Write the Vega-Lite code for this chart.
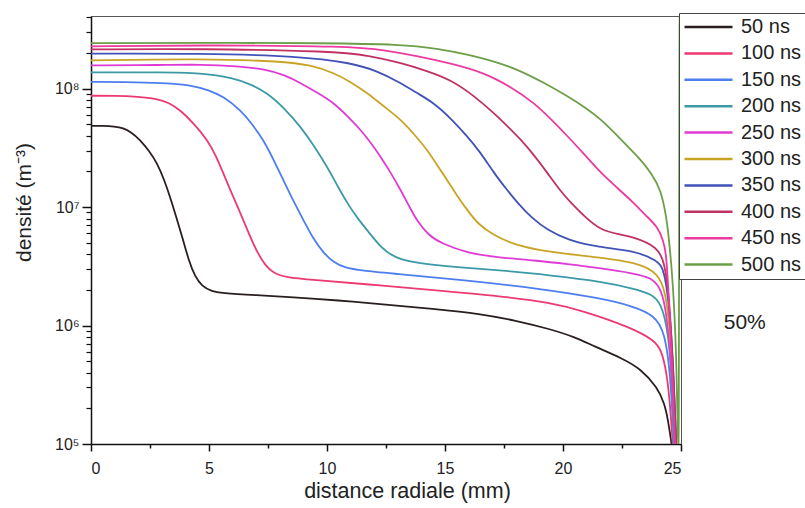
{
"$schema": "https://vega.github.io/schema/vega-lite/v6.json",
"width": 590, "height": 428,
"autosize": {"type": "none"},
"padding": {"left": 91, "top": 16, "right": 124, "bottom": 64},
"background": "white",
"config": {
  "font": "Liberation Sans",
  "view": {"stroke": "#555", "strokeWidth": 1},
  "axis": {"grid": false, "domainColor": "#111", "tickColor": "#111", "labelColor": "#222", "titleColor": "#222", "labelFont": "Liberation Sans", "titleFont": "Liberation Sans", "titleFontWeight": "normal"}
},
"datasets": {
"curves": [
{"t":"50 ns","x":0,"y":4.85e7},{"t":"50 ns","x":0.5,"y":4.85e7},{"t":"50 ns","x":1.0,"y":4.78e7},{"t":"50 ns","x":1.36,"y":4.65e7},{"t":"50 ns","x":1.7,"y":4.3e7},{"t":"50 ns","x":2.08,"y":3.7e7},{"t":"50 ns","x":2.45,"y":3.0e7},{"t":"50 ns","x":2.8,"y":2.36e7},{"t":"50 ns","x":3.1,"y":1.7e7},{"t":"50 ns","x":3.35,"y":1.22e7},{"t":"50 ns","x":3.6,"y":8.4e6},{"t":"50 ns","x":3.9,"y":5.3e6},{"t":"50 ns","x":4.15,"y":3.5e6},{"t":"50 ns","x":4.4,"y":2.6e6},{"t":"50 ns","x":4.7,"y":2.15e6},{"t":"50 ns","x":5.1,"y":1.95e6},{"t":"50 ns","x":5.5,"y":1.88e6},{"t":"50 ns","x":7,"y":1.8e6},{"t":"50 ns","x":8.5,"y":1.74e6},{"t":"50 ns","x":10.5,"y":1.63e6},{"t":"50 ns","x":12.3,"y":1.51e6},{"t":"50 ns","x":14.5,"y":1.38e6},{"t":"50 ns","x":16.5,"y":1.26e6},{"t":"50 ns","x":18,"y":1.1e6},{"t":"50 ns","x":19.4,"y":9.4e5},{"t":"50 ns","x":20.5,"y":8.0e5},{"t":"50 ns","x":21.3,"y":6.7e5},{"t":"50 ns","x":22.5,"y":5.3e5},{"t":"50 ns","x":23.3,"y":4.3e5},{"t":"50 ns","x":24.0,"y":3.0e5},{"t":"50 ns","x":24.3,"y":2.2e5},{"t":"50 ns","x":24.45,"y":1.6e5},{"t":"50 ns","x":24.6,"y":1.0e5},
{"t":"100 ns","x":0,"y":8.7e7},{"t":"100 ns","x":1.0,"y":8.7e7},{"t":"100 ns","x":2.0,"y":8.55e7},{"t":"100 ns","x":2.8,"y":8.2e7},{"t":"100 ns","x":3.3,"y":7.6e7},{"t":"100 ns","x":3.78,"y":6.6e7},{"t":"100 ns","x":4.35,"y":5.1e7},{"t":"100 ns","x":4.93,"y":3.7e7},{"t":"100 ns","x":5.3,"y":2.7e7},{"t":"100 ns","x":5.6,"y":1.94e7},{"t":"100 ns","x":6.0,"y":1.25e7},{"t":"100 ns","x":6.33,"y":8.9e6},{"t":"100 ns","x":6.7,"y":5.9e6},{"t":"100 ns","x":7.05,"y":4.1e6},{"t":"100 ns","x":7.4,"y":3.2e6},{"t":"100 ns","x":7.73,"y":2.76e6},{"t":"100 ns","x":8.3,"y":2.55e6},{"t":"100 ns","x":9.2,"y":2.45e6},{"t":"100 ns","x":12.3,"y":2.18e6},{"t":"100 ns","x":15,"y":1.95e6},{"t":"100 ns","x":17.6,"y":1.75e6},{"t":"100 ns","x":19.5,"y":1.55e6},{"t":"100 ns","x":20.8,"y":1.34e6},{"t":"100 ns","x":22.9,"y":9.6e5},{"t":"100 ns","x":23.86,"y":7.5e5},{"t":"100 ns","x":24.16,"y":6.3e5},{"t":"100 ns","x":24.4,"y":4.0e5},{"t":"100 ns","x":24.55,"y":2.0e5},{"t":"100 ns","x":24.65,"y":1.0e5},
{"t":"150 ns","x":0,"y":1.14e8},{"t":"150 ns","x":2,"y":1.13e8},{"t":"150 ns","x":3.3,"y":1.11e8},{"t":"150 ns","x":4.2,"y":1.07e8},{"t":"150 ns","x":5.0,"y":9.7e7},{"t":"150 ns","x":5.6,"y":8.6e7},{"t":"150 ns","x":6.33,"y":6.6e7},{"t":"150 ns","x":6.8,"y":5.1e7},{"t":"150 ns","x":7.3,"y":3.7e7},{"t":"150 ns","x":7.7,"y":2.6e7},{"t":"150 ns","x":8.15,"y":1.69e7},{"t":"150 ns","x":8.6,"y":1.1e7},{"t":"150 ns","x":9.0,"y":7.76e6},{"t":"150 ns","x":9.4,"y":5.5e6},{"t":"150 ns","x":9.85,"y":4.08e6},{"t":"150 ns","x":10.3,"y":3.4e6},{"t":"150 ns","x":10.7,"y":3.1e6},{"t":"150 ns","x":11.5,"y":2.9e6},{"t":"150 ns","x":12.7,"y":2.76e6},{"t":"150 ns","x":15.97,"y":2.4e6},{"t":"150 ns","x":19,"y":2.05e6},{"t":"150 ns","x":21.6,"y":1.7e6},{"t":"150 ns","x":23.0,"y":1.45e6},{"t":"150 ns","x":23.86,"y":1.22e6},{"t":"150 ns","x":24.3,"y":9e5},{"t":"150 ns","x":24.55,"y":4e5},{"t":"150 ns","x":24.7,"y":1.0e5},
{"t":"200 ns","x":0,"y":1.37e8},{"t":"200 ns","x":3,"y":1.37e8},{"t":"200 ns","x":4.63,"y":1.36e8},{"t":"200 ns","x":6.03,"y":1.23e8},{"t":"200 ns","x":6.8,"y":1.08e8},{"t":"200 ns","x":7.46,"y":9.2e7},{"t":"200 ns","x":8.2,"y":6.8e7},{"t":"200 ns","x":8.87,"y":4.8e7},{"t":"200 ns","x":9.45,"y":3.3e7},{"t":"200 ns","x":10.0,"y":2.2e7},{"t":"200 ns","x":10.45,"y":1.5e7},{"t":"200 ns","x":10.86,"y":1.08e7},{"t":"200 ns","x":11.3,"y":8.0e6},{"t":"200 ns","x":11.7,"y":6.4e6},{"t":"200 ns","x":12.3,"y":4.5e6},{"t":"200 ns","x":12.9,"y":3.7e6},{"t":"200 ns","x":13.84,"y":3.35e6},{"t":"200 ns","x":15.5,"y":3.1e6},{"t":"200 ns","x":17.4,"y":2.92e6},{"t":"200 ns","x":19.5,"y":2.65e6},{"t":"200 ns","x":21.6,"y":2.36e6},{"t":"200 ns","x":23.0,"y":2.05e6},{"t":"200 ns","x":23.74,"y":1.85e6},{"t":"200 ns","x":24.16,"y":1.55e6},{"t":"200 ns","x":24.45,"y":9e5},{"t":"200 ns","x":24.6,"y":4e5},{"t":"200 ns","x":24.72,"y":1.0e5},
{"t":"250 ns","x":0,"y":1.57e8},{"t":"250 ns","x":3,"y":1.58e8},{"t":"250 ns","x":4.63,"y":1.6e8},{"t":"250 ns","x":6.2,"y":1.55e8},{"t":"250 ns","x":7.46,"y":1.45e8},{"t":"250 ns","x":8.2,"y":1.3e8},{"t":"250 ns","x":8.87,"y":1.12e8},{"t":"250 ns","x":9.6,"y":9.2e7},{"t":"250 ns","x":10.28,"y":7.6e7},{"t":"250 ns","x":10.85,"y":5.9e7},{"t":"250 ns","x":11.42,"y":4.5e7},{"t":"250 ns","x":11.85,"y":3.5e7},{"t":"250 ns","x":12.27,"y":2.67e7},{"t":"250 ns","x":12.7,"y":1.95e7},{"t":"250 ns","x":13.12,"y":1.39e7},{"t":"250 ns","x":13.5,"y":1.0e7},{"t":"250 ns","x":13.84,"y":7.5e6},{"t":"250 ns","x":14.3,"y":5.8e6},{"t":"250 ns","x":14.82,"y":4.95e6},{"t":"250 ns","x":15.97,"y":4.08e6},{"t":"250 ns","x":17.3,"y":3.75e6},{"t":"250 ns","x":18.77,"y":3.55e6},{"t":"250 ns","x":20.2,"y":3.3e6},{"t":"250 ns","x":21.61,"y":3.04e6},{"t":"250 ns","x":23.0,"y":2.75e6},{"t":"250 ns","x":23.74,"y":2.55e6},{"t":"250 ns","x":24.25,"y":2.0e6},{"t":"250 ns","x":24.5,"y":8e5},{"t":"250 ns","x":24.65,"y":3e5},{"t":"250 ns","x":24.75,"y":1.0e5},
{"t":"300 ns","x":0,"y":1.73e8},{"t":"300 ns","x":4.63,"y":1.79e8},{"t":"300 ns","x":8.15,"y":1.7e8},{"t":"300 ns","x":9.3,"y":1.58e8},{"t":"300 ns","x":10.28,"y":1.36e8},{"t":"300 ns","x":11.0,"y":1.14e8},{"t":"300 ns","x":11.7,"y":9.2e7},{"t":"300 ns","x":12.4,"y":7.1e7},{"t":"300 ns","x":13.12,"y":5.5e7},{"t":"300 ns","x":13.7,"y":4.1e7},{"t":"300 ns","x":14.25,"y":3.04e7},{"t":"300 ns","x":14.7,"y":2.2e7},{"t":"300 ns","x":15.1,"y":1.69e7},{"t":"300 ns","x":15.5,"y":1.25e7},{"t":"300 ns","x":15.95,"y":9.4e6},{"t":"300 ns","x":16.4,"y":7.2e6},{"t":"300 ns","x":16.94,"y":6.0e6},{"t":"300 ns","x":17.9,"y":4.8e6},{"t":"300 ns","x":19.36,"y":4.17e6},{"t":"300 ns","x":21.5,"y":3.77e6},{"t":"300 ns","x":23.3,"y":3.35e6},{"t":"300 ns","x":24.0,"y":2.75e6},{"t":"300 ns","x":24.35,"y":2.0e6},{"t":"300 ns","x":24.55,"y":8e5},{"t":"300 ns","x":24.7,"y":3e5},{"t":"300 ns","x":24.8,"y":1.0e5},
{"t":"350 ns","x":0,"y":1.97e8},{"t":"350 ns","x":4.63,"y":1.98e8},{"t":"350 ns","x":8.87,"y":1.88e8},{"t":"350 ns","x":11.0,"y":1.65e8},{"t":"350 ns","x":12.1,"y":1.42e8},{"t":"350 ns","x":13.12,"y":1.12e8},{"t":"350 ns","x":13.8,"y":9.2e7},{"t":"350 ns","x":14.52,"y":7.6e7},{"t":"350 ns","x":15.25,"y":5.6e7},{"t":"350 ns","x":15.95,"y":3.95e7},{"t":"350 ns","x":16.5,"y":2.9e7},{"t":"350 ns","x":17.08,"y":1.93e7},{"t":"350 ns","x":17.6,"y":1.42e7},{"t":"350 ns","x":18.08,"y":1.08e7},{"t":"350 ns","x":18.7,"y":8.0e6},{"t":"350 ns","x":19.35,"y":6.4e6},{"t":"350 ns","x":20.2,"y":5.25e6},{"t":"350 ns","x":21.5,"y":4.57e6},{"t":"350 ns","x":23.0,"y":4.3e6},{"t":"350 ns","x":24.0,"y":3.55e6},{"t":"350 ns","x":24.3,"y":3.0e6},{"t":"350 ns","x":24.55,"y":1.2e6},{"t":"350 ns","x":24.7,"y":3.5e5},{"t":"350 ns","x":24.8,"y":1.0e5},
{"t":"400 ns","x":0,"y":2.14e8},{"t":"400 ns","x":4.63,"y":2.17e8},{"t":"400 ns","x":10.28,"y":2.07e8},{"t":"400 ns","x":11.8,"y":1.9e8},{"t":"400 ns","x":13.12,"y":1.65e8},{"t":"400 ns","x":14.2,"y":1.42e8},{"t":"400 ns","x":15.24,"y":1.19e8},{"t":"400 ns","x":16.2,"y":8.8e7},{"t":"400 ns","x":17.08,"y":6.2e7},{"t":"400 ns","x":17.65,"y":4.8e7},{"t":"400 ns","x":18.22,"y":3.7e7},{"t":"400 ns","x":18.8,"y":2.7e7},{"t":"400 ns","x":19.35,"y":1.93e7},{"t":"400 ns","x":19.85,"y":1.4e7},{"t":"400 ns","x":20.34,"y":1.08e7},{"t":"400 ns","x":21.0,"y":8.0e6},{"t":"400 ns","x":21.61,"y":6.4e6},{"t":"400 ns","x":22.3,"y":5.9e6},{"t":"400 ns","x":23.0,"y":5.6e6},{"t":"400 ns","x":24.0,"y":4.6e6},{"t":"400 ns","x":24.29,"y":3.5e6},{"t":"400 ns","x":24.5,"y":1.8e6},{"t":"400 ns","x":24.65,"y":5e5},{"t":"400 ns","x":24.8,"y":1.0e5},
{"t":"450 ns","x":0,"y":2.27e8},{"t":"450 ns","x":4.63,"y":2.33e8},{"t":"450 ns","x":11.0,"y":2.28e8},{"t":"450 ns","x":12.5,"y":2.1e8},{"t":"450 ns","x":13.83,"y":1.88e8},{"t":"450 ns","x":15.3,"y":1.62e8},{"t":"450 ns","x":16.66,"y":1.36e8},{"t":"450 ns","x":17.8,"y":1.03e8},{"t":"450 ns","x":18.77,"y":7.6e7},{"t":"450 ns","x":19.5,"y":5.5e7},{"t":"450 ns","x":20.2,"y":3.95e7},{"t":"450 ns","x":20.9,"y":2.8e7},{"t":"450 ns","x":21.61,"y":1.93e7},{"t":"450 ns","x":22.3,"y":1.45e7},{"t":"450 ns","x":23.01,"y":1.08e7},{"t":"450 ns","x":23.5,"y":8.5e6},{"t":"450 ns","x":24.02,"y":6.8e6},{"t":"450 ns","x":24.25,"y":5.2e6},{"t":"450 ns","x":24.37,"y":4.1e6},{"t":"450 ns","x":24.46,"y":2.1e6},{"t":"450 ns","x":24.6,"y":6e5},{"t":"450 ns","x":24.75,"y":1.0e5},
{"t":"500 ns","x":0,"y":2.42e8},{"t":"500 ns","x":4.63,"y":2.44e8},{"t":"500 ns","x":10,"y":2.42e8},{"t":"500 ns","x":13.12,"y":2.36e8},{"t":"500 ns","x":14.7,"y":2.18e8},{"t":"500 ns","x":15.95,"y":1.94e8},{"t":"500 ns","x":17.1,"y":1.7e8},{"t":"500 ns","x":18.08,"y":1.45e8},{"t":"500 ns","x":19.2,"y":1.12e8},{"t":"500 ns","x":20.2,"y":8.6e7},{"t":"500 ns","x":21.0,"y":6.8e7},{"t":"500 ns","x":21.61,"y":5.5e7},{"t":"500 ns","x":22.2,"y":4.2e7},{"t":"500 ns","x":22.75,"y":3.24e7},{"t":"500 ns","x":23.3,"y":2.5e7},{"t":"500 ns","x":23.74,"y":1.93e7},{"t":"500 ns","x":24.16,"y":1.39e7},{"t":"500 ns","x":24.37,"y":8.3e6},{"t":"500 ns","x":24.45,"y":6.4e6},{"t":"500 ns","x":24.66,"y":2.4e6},{"t":"500 ns","x":24.8,"y":6e5},{"t":"500 ns","x":24.87,"y":1.0e5},{"t":"500 ns","x":24.89,"y":1.0e5},{"t":"500 ns","x":24.91,"y":1.0e5},{"t":"500 ns","x":24.93,"y":4.1e8},{"t":"500 ns","x":24.95,"y":4.1e8}
]
},
"data": {"name": "curves"},
"layer": [
  {
    "mark": {"type": "line", "strokeWidth": 1.8, "interpolate": "basis", "clip": true},
    "encoding": {
      "x": {"field": "x", "type": "quantitative",
        "scale": {"domain": [0, 25], "nice": false, "zero": false},
        "axis": {"orient": "bottom", "values": [0, 5, 10, 15, 20, 25], "tickSize": 7, "tickWidth": 1.5, "domainWidth": 1.5, "labelFontSize": 16, "labelPadding": 9, "title": "distance radiale (mm)", "titleFontSize": 21.5, "titleX": 316, "titleY": 53, "titleBaseline": "alphabetic", "titleAlign": "center"}},
      "y": {"field": "y", "type": "quantitative",
        "scale": {"type": "log", "domain": [100000, 410000000], "nice": false},
        "axis": {"orient": "left", "values": [100000, 1000000, 10000000, 100000000], "tickSize": 9, "tickWidth": 1.5, "domainWidth": 1.5, "labelFontSize": 16, "labelPadding": 3,
          "labelExpr": "datum.value == 100000 ? '10⁵' : datum.value == 1000000 ? '10⁶' : datum.value == 10000000 ? '10⁷' : '10⁸'",
          "title": "densité (m⁻³)", "titleFontSize": 21, "titleAngle": -90, "titleX": -61, "titleY": 186, "titleAlign": "center", "titleBaseline": "alphabetic"}},
      "color": {"field": "t", "type": "nominal",
        "scale": {"domain": ["50 ns","100 ns","150 ns","200 ns","250 ns","300 ns","350 ns","400 ns","450 ns","500 ns"],
                  "range": ["#2a1f1f","#ec3a70","#4d7ef0","#3b9aa6","#e03ad6","#c9a424","#4052b8","#c03262","#ec3aa0","#6b9f48"]},
        "legend": {"title": null, "orient": "none", "legendX": 588, "legendY": -3, "symbolType": "stroke", "symbolSize": 2304, "symbolStrokeWidth": 2.5, "clipHeight": 20, "rowPadding": 6.4, "padding": 4, "labelFontSize": 20, "labelOffset": 7, "labelColor": "#222", "labelFont": "Liberation Sans", "fillColor": "white", "strokeColor": "#444", "cornerRadius": 0}}
    }
  },
  {
    "mark": {"type": "point", "opacity": 0},
    "encoding": {
      "x": {"field": "x", "type": "quantitative", "axis": {"orient": "bottom", "offset": 0, "values": [2.5, 7.5, 12.5, 17.5, 22.5], "labels": false, "domain": false, "title": null, "tickSize": 4, "tickWidth": 1.5}},
      "y": {"field": "y", "type": "quantitative", "axis": {"orient": "left", "offset": 0, "values": [200000,300000,400000,500000,600000,700000,800000,900000,2000000,3000000,4000000,5000000,6000000,7000000,8000000,9000000,20000000,30000000,40000000,50000000,60000000,70000000,80000000,90000000,200000000,300000000,400000000], "labels": false, "domain": false, "title": null, "tickSize": 5, "tickWidth": 1.2}}
    }
  },
  {
    "data": {"values": [{"label": "50%"}]},
    "mark": {"type": "text", "fontSize": 21, "font": "Liberation Sans", "color": "#222", "clip": false, "align": "center", "baseline": "middle"},
    "encoding": {
      "x": {"datum": 27.7, "type": "quantitative", "axis": null},
      "y": {"datum": 1060000, "type": "quantitative", "axis": null},
      "text": {"field": "label", "type": "nominal"}
    }
  }
],
"resolve": {"axis": {"x": "independent", "y": "independent"}}
}
